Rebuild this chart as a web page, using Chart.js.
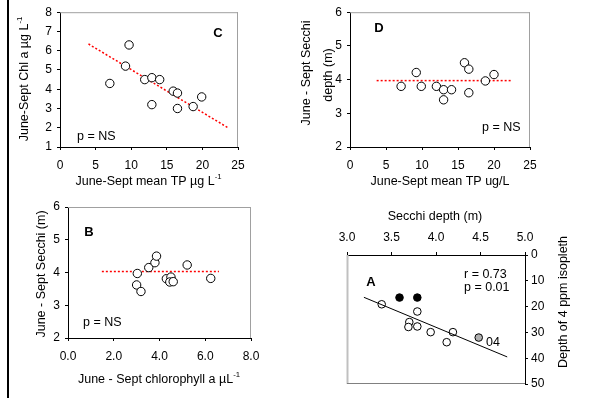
<!DOCTYPE html>
<html><head><meta charset="utf-8">
<script src="https://cdn.jsdelivr.net/npm/chart.js@4.4.1/dist/chart.umd.min.js"></script>
<style>
body{margin:0;background:#fff;width:592px;height:398px;overflow:hidden;position:relative}
canvas.c{position:absolute;left:0;top:0}
#bar{position:absolute;left:7px;top:0;width:2px;height:398px;background:#000}
</style></head>
<body>
<div id="bar"></div>
<canvas class="c" id="pC" width="592" height="398"></canvas>
<canvas class="c" id="pD" width="592" height="398"></canvas>
<canvas class="c" id="pB" width="592" height="398"></canvas>
<canvas class="c" id="pA" width="592" height="398"></canvas>
<script>
// ---------- DATA ----------
// Panel C: June-Sept mean TP vs Chl a
const tpC  = [7.0, 9.7, 9.2, 11.9, 12.9, 14.0, 12.9, 15.9, 16.5, 16.5, 18.7, 19.9];
const chlC = [4.3, 6.3, 5.2, 4.5, 4.6, 4.5, 3.2, 3.9, 3.8, 3.0, 3.1, 3.6];
const fitCx = [4.0, 23.6];
const fitCy = [6.35, 2.0];
const xTicksC = [0, 5, 10, 15, 20, 25];
const yTicksC = [1, 2, 3, 4, 5, 6, 7, 8];

// Panel D: June-Sept mean TP vs Secchi depth
const tpD  = [7.1, 9.2, 9.9, 12.0, 13.0, 13.0, 14.1, 15.9, 16.5, 16.5, 18.8, 20.0];
const secD = [3.8, 4.21, 3.8, 3.8, 3.7, 3.4, 3.7, 4.5, 4.31, 3.61, 3.96, 4.15];
const fitDx = [3.7, 22.4];
const fitDy = [3.97, 3.97];
const xTicksD = [0, 5, 10, 15, 20, 25];
const yTicksD = [2, 3, 4, 5, 6];

// Panel B: chlorophyll a vs Secchi
const chlB = [3.03, 3.0, 3.19, 3.53, 3.80, 3.87, 4.3, 4.5, 4.45, 4.6, 5.21, 6.24];
const secB = [3.97, 3.62, 3.42, 4.15, 4.30, 4.50, 3.81, 3.86, 3.71, 3.72, 4.23, 3.82];
const fitBx = [1.48, 6.6];
const fitBy = [4.03, 4.03];
const xTicksB = [0, 2, 4, 6, 8];
const yTicksB = [2, 3, 4, 5, 6];

// Panel A: Secchi depth vs depth of 4 ppm isopleth
const secAopen = [3.39, 3.79, 3.70, 3.69, 3.79, 3.94, 4.19, 4.12];
const isoAopen = [19.1, 21.9, 26.0, 27.9, 27.7, 29.9, 29.9, 33.8];
const secAfill = [3.59, 3.79];
const isoAfill = [16.5, 16.5];
const secAgray = [4.48];
const isoAgray = [32.0];
const fitAx = [3.19, 4.80];
const fitAy = [16.4, 39.5];
const xTicksA = [3.0, 3.5, 4.0, 4.5, 5.0];
const yTicksA = [0, 10, 20, 30, 40, 50];

// ---------- DRAWING ----------
const FONT = '"Liberation Sans", Arial, Helvetica, sans-serif';
Chart.defaults.font.family = FONT;
Chart.defaults.font.size = 12;
Chart.defaults.color = '#000';

const pts = (xs, ys) => xs.map((x, i) => ({x, y: ys[i]}));

function drawRich(ctx, it) {
  const size = it.size || 12.5;
  const w8 = it.bold ? 'bold ' : '';
  ctx.save();
  ctx.translate(it.x, it.y);
  if (it.rot) ctx.rotate(it.rot);
  let total = 0;
  const parts = it.parts.map(p => {
    const fs = p.sup ? size * 0.62 : size;
    ctx.font = w8 + fs + 'px ' + FONT;
    const w = ctx.measureText(p.t).width;
    total += w;
    return {t: p.t, sup: p.sup, fs, w};
  });
  let x = it.align === 'left' ? 0 : it.align === 'right' ? -total : -total / 2;
  ctx.textBaseline = 'middle';
  ctx.fillStyle = '#000';
  for (const p of parts) {
    ctx.font = w8 + p.fs + 'px ' + FONT;
    ctx.fillText(p.t, x, p.sup ? -size * 0.38 : 0);
    x += p.w;
  }
  ctx.restore();
}

function scatterSet(data, fill, radius) {
  return {type: 'scatter', data, pointStyle: 'circle', pointRadius: radius,
          backgroundColor: fill, borderColor: '#000', pointBorderWidth: 1, borderWidth: 1};
}
function lineSet(data, color, dash, width) {
  return {type: 'scatter', data, showLine: true, pointRadius: 0, borderColor: color,
          borderDash: dash, borderWidth: width, backgroundColor: color};
}

function panel(id, o) {
  const [L, T, R, B] = o.area;
  const xTop = o.xPos === 'top', yRight = o.yPos === 'right';
  const XH = 24, YW = 30;
  const padding = {
    left: yRight ? L : L - YW,
    right: yRight ? 592 - R - YW : 592 - R,
    top: xTop ? T - XH : T,
    bottom: xTop ? 398 - B : 398 - B - XH
  };
  const grid = {drawOnChartArea: false, drawTicks: true, tickLength: 3, color: '#000', tickColor: '#000'};
  new Chart(document.getElementById(id), {
    type: 'scatter',
    data: {datasets: o.datasets},
    options: {
      responsive: false, animation: false, events: [],
      layout: {padding},
      plugins: {legend: {display: false}, tooltip: {enabled: false}},
      scales: {
        x: {
          type: 'linear', position: o.xPos || 'bottom',
          min: o.xTicks[0], max: o.xTicks[o.xTicks.length - 1],
          afterFit: s => { s.height = XH; },
          afterBuildTicks: s => { s.ticks = o.xTicks.map(v => ({value: v})); },
          ticks: {callback: v => v.toFixed(o.xDec), padding: xTop ? 7 : 8, maxRotation: 0, autoSkip: false, font: {size: 12}},
          grid, border: {color: '#000', width: 1}
        },
        y: {
          type: 'linear', position: o.yPos || 'left', reverse: !!o.yRev,
          min: o.yTicks[0], max: o.yTicks[o.yTicks.length - 1],
          afterFit: s => { s.width = YW; },
          afterBuildTicks: s => { s.ticks = o.yTicks.map(v => ({value: v})); },
          ticks: {callback: v => v.toFixed(0), padding: yRight ? 3 : 5, autoSkip: false, font: {size: 12}},
          grid, border: {color: '#000', width: 1}
        }
      }
    },
    plugins: [{
      id: 'deco',
      beforeDatasetsDraw(c) {
        const a = c.chartArea, ctx = c.ctx;
        ctx.save();
        ctx.lineWidth = 1;
        for (const f of o.frame) {
          ctx.strokeStyle = f.color;
          ctx.lineWidth = f.width || 1;
          ctx.beginPath();
          if (f.side === 'top') { ctx.moveTo(a.left, a.top + 0.5); ctx.lineTo(a.right, a.top + 0.5); }
          if (f.side === 'right') { ctx.moveTo(a.right - 0.5, a.top); ctx.lineTo(a.right - 0.5, a.bottom); }
          if (f.side === 'left') { ctx.moveTo(a.left + 0.5, a.top); ctx.lineTo(a.left + 0.5, a.bottom); }
          if (f.side === 'bottom') { ctx.moveTo(a.left, a.bottom - 0.5); ctx.lineTo(a.right, a.bottom - 0.5); }
          ctx.stroke();
        }
        ctx.restore();
      },
      afterDraw(c) {
        for (const t of o.texts) drawRich(c.ctx, t);
      }
    }]
  });
}

const RED = '#ff0000';
const ROT = -Math.PI / 2;

panel('pC', {
  area: [60, 12, 238, 147],
  xTicks: xTicksC, yTicks: yTicksC, xDec: 0,
  datasets: [scatterSet(pts(tpC, chlC), '#fff', 4.2), lineSet(pts(fitCx, fitCy), RED, [2, 2], 1.5)],
  frame: [{side: 'top', color: '#a0a0a0'}, {side: 'right', color: '#a0a0a0'}],
  texts: [
    {x: 25, y: 79, rot: ROT, parts: [{t: 'June-Sept Chl a µg L'}, {t: '-1', sup: true}]},
    {x: 148.5, y: 182, parts: [{t: 'June-Sept mean TP µg L'}, {t: '-1', sup: true}]},
    {x: 218, y: 33, bold: true, size: 13, parts: [{t: 'C'}]},
    {x: 77, y: 137, align: 'left', parts: [{t: 'p = NS'}]}
  ]
});

panel('pD', {
  area: [350, 12, 530, 147],
  xTicks: xTicksD, yTicks: yTicksD, xDec: 0,
  datasets: [scatterSet(pts(tpD, secD), '#fff', 4.2), lineSet(pts(fitDx, fitDy), RED, [2, 2], 1.5)],
  frame: [{side: 'top', color: '#a0a0a0'}, {side: 'right', color: '#a0a0a0'}],
  texts: [
    {x: 307, y: 73, rot: ROT, parts: [{t: 'June - Sept Secchi'}]},
    {x: 329, y: 75, rot: ROT, parts: [{t: 'depth (m)'}]},
    {x: 440, y: 182, parts: [{t: 'June-Sept mean TP ug/L'}]},
    {x: 379, y: 28, bold: true, size: 13, parts: [{t: 'D'}]},
    {x: 482, y: 128, align: 'left', parts: [{t: 'p = NS'}]}
  ]
});

panel('pB', {
  area: [68, 207, 251, 338],
  xTicks: xTicksB, yTicks: yTicksB, xDec: 1,
  datasets: [scatterSet(pts(chlB, secB), '#fff', 4.2), lineSet(pts(fitBx, fitBy), RED, [2, 2], 1.5)],
  frame: [{side: 'top', color: '#a0a0a0'}, {side: 'right', color: '#a0a0a0'}],
  texts: [
    {x: 42, y: 274, rot: ROT, parts: [{t: 'June - Sept Secchi (m)'}]},
    {x: 159, y: 380, parts: [{t: 'June - Sept chlorophyll a µL'}, {t: '-1', sup: true}]},
    {x: 89, y: 232, bold: true, size: 13, parts: [{t: 'B'}]},
    {x: 83, y: 323, align: 'left', parts: [{t: 'p = NS'}]}
  ]
});

panel('pA', {
  area: [347, 255, 525, 384],
  xTicks: xTicksA, yTicks: yTicksA, xDec: 1, xPos: 'top', yPos: 'right', yRev: true,
  datasets: [
    lineSet(pts(fitAx, fitAy), '#000', [], 1),
    scatterSet(pts(secAopen, isoAopen), '#fff', 3.8),
    scatterSet(pts(secAfill, isoAfill), '#000', 3.8),
    scatterSet(pts(secAgray, isoAgray), '#b0b0b0', 3.8)
  ],
  frame: [{side: 'left', color: '#c0c0c0', width: 2}, {side: 'bottom', color: '#808080'}],
  texts: [
    {x: 435, y: 217, parts: [{t: 'Secchi depth (m)'}]},
    {x: 564, y: 302, rot: ROT, parts: [{t: 'Depth of 4 ppm isopleth'}]},
    {x: 371, y: 282, bold: true, size: 13, parts: [{t: 'A'}]},
    {x: 464, y: 275, align: 'left', parts: [{t: 'r = 0.73'}]},
    {x: 464, y: 288, align: 'left', parts: [{t: 'p = 0.01'}]},
    {x: 486, y: 343, align: 'left', parts: [{t: '04'}]}
  ]
});
</script>
</body></html>
